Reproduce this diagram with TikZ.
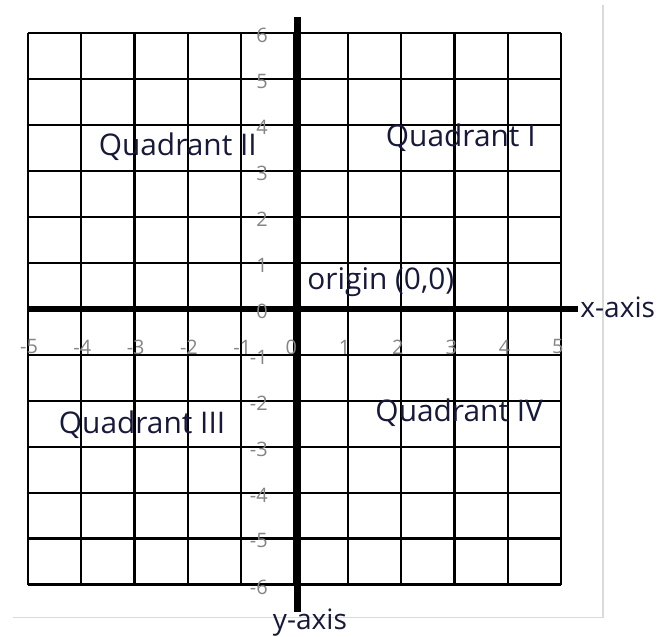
\documentclass[tikz,border=0pt]{standalone}
\usepackage{fontspec}
\setmainfont{Open Sans}
\usepackage{tikz}
\usetikzlibrary{positioning}
\definecolor{Ink}{HTML}{17193A}
\definecolor{Tick}{HTML}{858585}
\definecolor{Frame}{HTML}{DADADA}
\tikzset{
  cell/.style={draw=black,line width=2pt},
  axis/.style={draw=black,line width=5.5pt},
  frameline/.style={draw=Frame,line width=1.3pt},
  quad/.style={text=Ink,font=\fontsize{25.5}{28}\selectfont,inner sep=0pt},
  axname/.style={text=Ink,font=\fontsize{24}{28}\selectfont,inner sep=0pt},
  tick/.style={text=Tick,font=\fontsize{17}{19}\selectfont,inner sep=0pt}
}

\begin{document}
\begin{tikzpicture}[x=1.6cm,y=1.38cm]
  \useasboundingbox (-5.525,-7.13) rectangle (6.895,6.717);
  \coordinate (fl) at (-5.28,-6.72);
  \coordinate (fc) at (5.79,-6.72);
  \coordinate (ft) at (5.79,6.61);
  \draw[frameline] (fl) -- (fc) -- (ft);
  \foreach \i in {-5,...,5}
    \draw[cell] (\i,-6) -- (\i,6);
  \foreach \j in {-6,...,6}
    \draw[cell] (-5,\j) -- (5,\j);
  \coordinate (xl) at (-5,0);
  \coordinate (xr) at (5.32,0);
  \coordinate (yt) at (0.06,6.35);
  \coordinate (yb) at (0.06,-6.59);
  \draw[axis] (xl) -- (xr);
  \draw[axis] (yt) -- (yb);
  \foreach \i in {1,...,5}{
    \node[tick] (xp\i) at (\i-0.06,-0.83) {\i};
    \node[tick] (xm\i) at (-\i+0.08,-0.83) {\llap{-}\i};
  }
  \node[tick] (x0) at (-0.06,-0.83) {0};
  \foreach \j in {1,...,6}{
    \node[tick] (yp\j) at (-0.61,\j-0.05) {\j};
    \node[tick] (ym\j) at (-0.61,-\j-0.05) {\llap{-}\j};
  }
  \node[tick] (y0) at (-0.61,-0.06) {0};
  \node[quad] (q1) at (3.12,3.72) {Quadrant I};
  \node[quad] (q2) at (-2.19,3.52) {Quadrant II};
  \node[quad] (q3) at (-2.86,-2.52) {Quadrant III};
  \node[quad] (q4) at (3.09,-2.26) {Quadrant IV};
  \node[quad] (orig) at (1.62,0.59) {origin (0,0)};
  \node[axname,anchor=west] (xname) at (5.36,0.04) {x-axis};
  \node[axname,anchor=base] (yname) at (0.29,-6.97) {y-axis};
\end{tikzpicture}
\end{document}
